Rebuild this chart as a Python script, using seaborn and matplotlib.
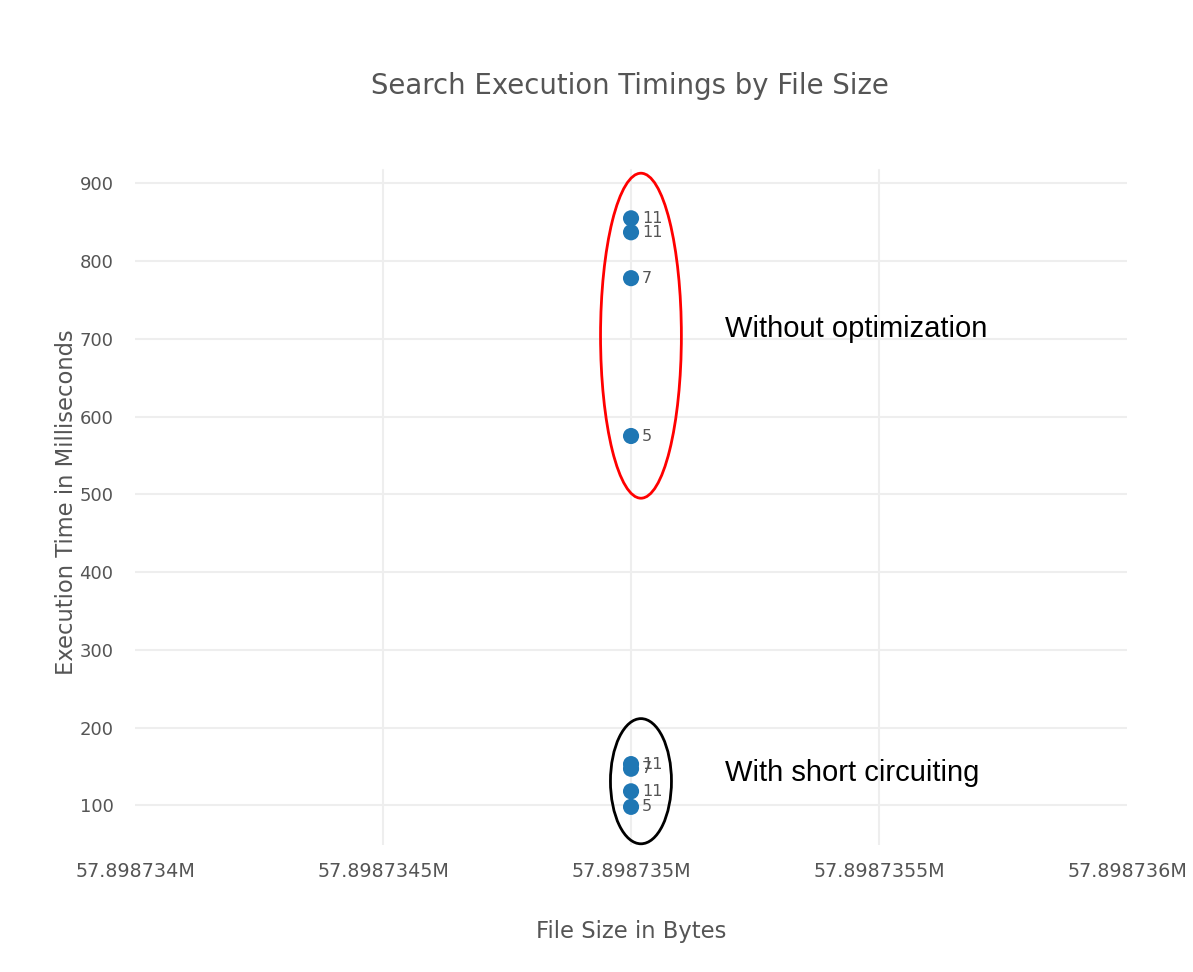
import numpy as np
import pandas as pd
import seaborn as sns
from matplotlib import pyplot as plt
from matplotlib.patches import Ellipse
from matplotlib.ticker import FuncFormatter

# data
file_size = [57898735] * 8
exec_ms = [855, 837, 778, 575, 153, 147, 118, 98]
labels = ['11', '11', '7', '5', '11', '7', '11', '5']
x_ticks = [57898734, 57898734.5, 57898735, 57898735.5, 57898736]
y_ticks = [100, 200, 300, 400, 500, 600, 700, 800, 900]

df = pd.DataFrame({'size': file_size, 'ms': exec_ms, 'label': labels})

sns.set_style('white')
plt.rcParams['font.family'] = ['DejaVu Sans']

fig = plt.figure(figsize=(11.93, 9.72), dpi=100)
ax = fig.add_axes([0.1132, 0.1307, 0.8315, 0.7047])

sns.scatterplot(data=df, x='size', y='ms', ax=ax, s=135, color='#1f77b4',
                edgecolor='none', zorder=3)

for _, r in df.iterrows():
    ax.annotate(r['label'], (r['size'], r['ms']), xytext=(8, 0), textcoords='offset points',
                va='center', ha='left', fontsize=11.5, color='#555555', zorder=4)

ax.set_xlim(57898734, 57898736)
ax.set_ylim(49, 930)
ax.set_xticks(x_ticks)
ax.set_yticks(y_ticks)
ax.xaxis.set_major_formatter(FuncFormatter(lambda v, p: f"{v / 1e6:.7f}".rstrip('0') + 'M'))
ax.grid(True, color='#eeeeee', linewidth=1.5)
ax.xaxis.grid(False)
for xv in x_ticks[1:-1]:
    ax.axvline(xv, ymax=0.985, color='#eeeeee', linewidth=1.5, zorder=0)
ax.set_axisbelow(True)
for s in ax.spines.values():
    s.set_visible(False)
ax.tick_params(axis='x', length=0, labelsize=13.8, labelcolor='#555555', pad=12)
ax.tick_params(axis='y', length=0, labelsize=13, labelcolor='#555555', pad=15.5)

ax.set_xlabel('File Size in Bytes', fontsize=16.3, color='#555555', labelpad=28)
ax.set_ylabel('Execution Time in Milliseconds', fontsize=16.3, color='#555555', labelpad=1)
fig.suptitle('Search Execution Timings by File Size', x=0.528, y=0.926, fontsize=19.8,
             color='#555555')

# hand-drawn highlight ellipses
ax.add_patch(Ellipse((57898735.02, 704), 0.163, 418, fill=False, edgecolor='red',
                     linewidth=2, zorder=5, clip_on=False))
ax.add_patch(Ellipse((57898735.02, 131), 0.123, 161, fill=False, edgecolor='black',
                     linewidth=2, zorder=5, clip_on=False))
ax.text(57898735.19, 712, 'Without optimization', fontsize=21, family='Liberation Sans',
        va='center', ha='left', color='black')
ax.text(57898735.19, 142, 'With short circuiting', fontsize=21, family='Liberation Sans',
        va='center', ha='left', color='black')

fig.savefig('out.png', dpi=100, facecolor='white')
